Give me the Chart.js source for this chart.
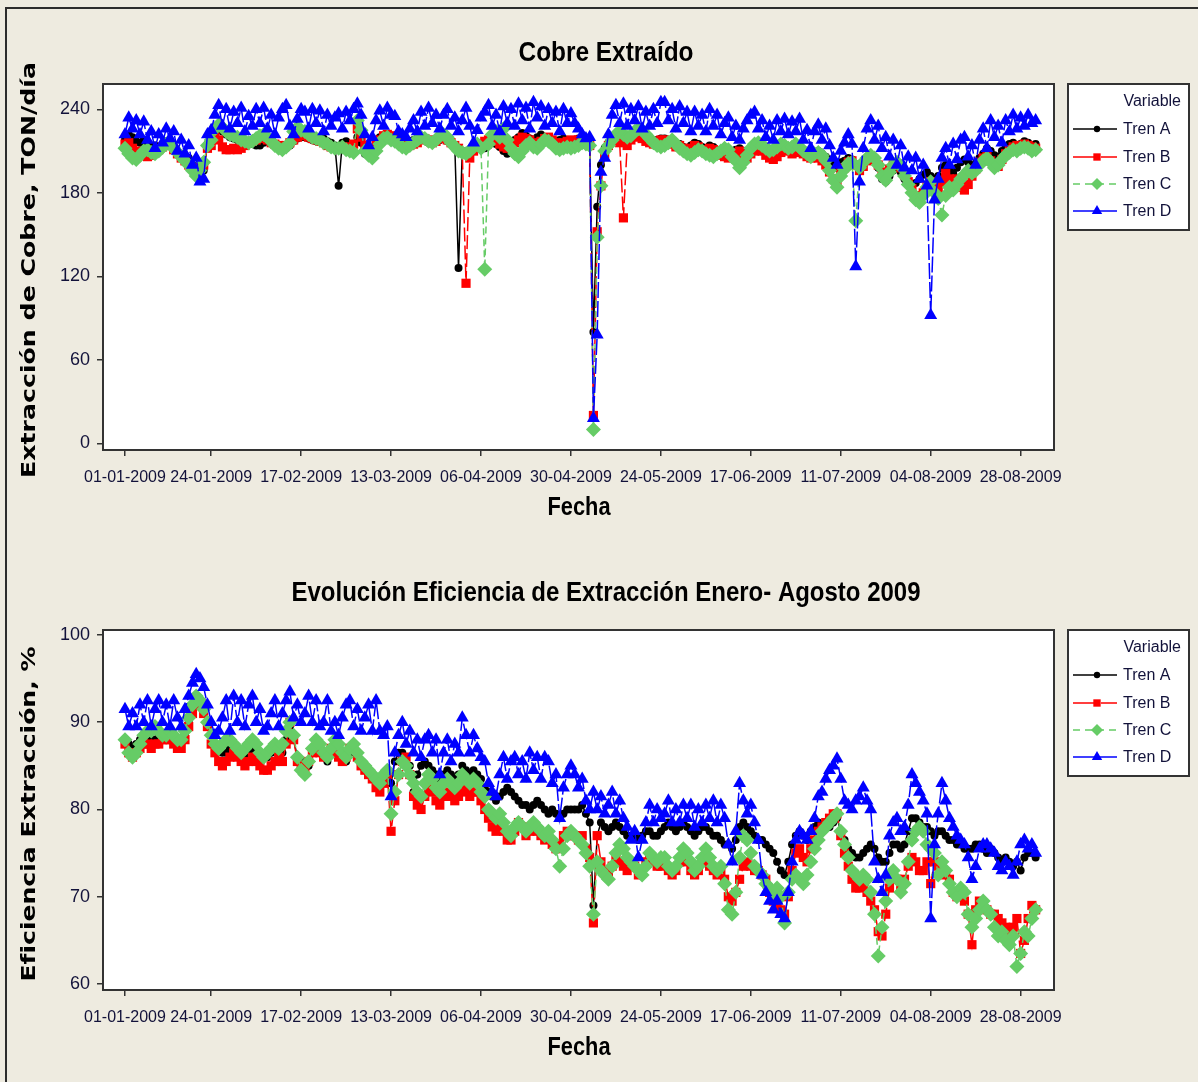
<!DOCTYPE html>
<html lang="es">
<head>
<meta charset="UTF-8">
<title>Cobre Extraído / Eficiencia de Extracción 2009</title>
<script src="https://cdn.jsdelivr.net/npm/chart.js"></script>
<style>
  body { margin: 0; background: #eeebe0; width: 1198px; height: 1082px; position: relative; overflow: hidden; }
  #frame { position: absolute; left: 5px; top: 7px; width: 1300px; height: 1200px; border-left: 2px solid #2c2c2c; border-top: 2px solid #2c2c2c; }
  canvas { position: absolute; left: 0; }
  #c1 { top: 0; }
  #c2 { top: 540px; }
</style>
</head>
<body>
<div id="frame"></div>
<canvas id="c1" width="1198" height="540"></canvas>
<canvas id="c2" width="1198" height="542"></canvas>
<script>
// un valor por día, 01-01-2009 (día 0) a 01-09-2009 (día 243)
const tickDays = [0, 23, 47, 71, 95, 119, 143, 167, 191, 215, 239];
const tickLabels = ['01-01-2009', '24-01-2009', '17-02-2009', '13-03-2009', '06-04-2009', '30-04-2009',
  '24-05-2009', '17-06-2009', '11-07-2009', '04-08-2009', '28-08-2009'];
const seriesNames = ['Tren A', 'Tren B', 'Tren C', 'Tren D'];

// Cobre extraído, TON/día
const cobreA = [
  218,222,220,217,216,218,215,214,214,213,215,217,218,214,210,208,207,205,200,197,194,196,215,
  217,222,226,224,222,220,219,218,219,217,216,215,214,214,216,218,217,215,213,212,212,214,217,219,220,
  220,219,218,217,218,219,217,216,214,185,216,217,215,214,220,216,208,209,212,218,220,221,219,220,
  219,218,216,215,217,218,219,220,218,216,216,217,218,219,217,216,214,126,210,208,211,213,214,212,
  212,214,216,215,213,210,208,212,218,220,223,221,219,218,220,222,220,218,216,217,218,219,217,216,
  218,219,217,216,214,80,170,200,212,216,220,222,221,220,218,219,221,222,220,218,217,216,218,219,
  219,218,216,214,215,213,212,214,216,215,213,212,214,213,211,209,208,207,209,211,212,210,208,210,
  212,214,213,211,209,210,212,214,213,211,212,214,213,211,209,207,209,210,208,206,204,200,198,202,
  203,205,204,200,198,200,203,205,203,198,190,188,192,196,198,195,190,186,184,187,190,193,195,192,
  190,192,198,200,196,194,198,202,204,202,199,201,205,208,212,210,207,206,210,213,215,216,214,215,217,216,214,215
];
const cobreB = [
  215,216,212,210,208,207,206,207,210,211,213,215,214,211,208,205,203,200,198,195,198,200,212,
  214,220,218,213,211,211,212,211,212,214,216,217,218,219,220,218,216,215,214,213,214,216,218,220,221,
  222,220,219,218,217,216,214,213,212,212,213,212,213,215,226,220,214,212,210,214,218,221,222,221,
  220,218,216,215,214,215,216,218,219,218,216,217,219,220,218,216,214,212,209,115,205,210,212,215,
  217,218,219,217,215,213,212,214,216,218,220,219,218,216,215,217,219,220,218,216,215,216,217,218,
  217,218,216,215,214,20,152,185,208,214,218,219,216,162,214,218,220,221,219,217,216,215,217,218,
  218,216,215,213,214,212,210,212,214,213,211,210,212,211,209,207,206,205,207,209,210,208,205,208,
  210,212,210,207,205,204,206,209,211,210,208,209,210,208,206,205,206,205,203,200,195,190,188,195,
  198,202,203,200,196,199,203,206,204,200,195,193,197,200,201,198,193,188,183,178,176,180,185,188,
  185,183,188,194,190,186,190,184,182,186,192,197,202,205,206,203,200,199,204,208,211,213,214,213,215,214,213,212
];
const cobreC = [
  212,208,205,204,207,210,211,209,208,210,213,215,216,212,209,206,203,200,196,192,196,202,214,
  218,226,229,227,224,222,221,220,218,217,216,217,219,221,222,220,217,214,212,211,213,216,224,227,225,
  224,222,220,219,218,216,215,213,212,212,213,211,210,209,232,225,210,207,205,210,215,219,220,218,
  217,215,213,212,214,216,218,220,219,217,216,218,221,222,220,216,213,210,209,208,210,213,215,212,
  125,215,222,224,220,226,218,212,208,206,210,214,216,213,212,215,218,217,215,212,211,212,213,212,
  213,214,216,215,214,10,148,185,210,214,218,222,224,222,220,221,224,226,225,222,219,216,214,213,
  214,216,218,215,212,210,208,207,209,211,210,208,207,206,208,210,212,211,206,203,198,202,207,212,
  215,216,214,212,210,211,213,215,214,212,213,215,213,210,208,206,208,209,207,203,196,189,184,192,
  197,201,202,160,198,202,205,207,205,200,192,189,195,200,202,199,192,186,180,175,173,178,184,188,
  180,176,164,178,184,182,186,190,193,196,194,196,200,203,205,202,198,200,204,207,209,211,210,212,213,212,210,211
];
const cobreD = [
  222,234,226,232,222,231,218,224,212,222,216,226,219,224,210,218,208,214,200,205,188,190,222,
  225,236,243,228,240,226,238,230,241,224,235,228,240,230,241,226,236,222,234,240,243,228,222,233,240,
  238,226,240,230,239,224,236,228,234,237,226,238,232,240,244,236,222,214,220,232,239,228,241,236,
  235,224,222,220,226,232,224,238,228,241,230,236,226,236,240,228,234,224,232,241,228,216,225,234,
  238,243,228,236,224,242,230,240,228,244,232,241,226,245,234,242,228,240,230,238,224,240,230,237,
  230,226,222,219,220,18,78,195,205,222,236,243,230,244,228,240,232,242,226,238,228,240,230,245,
  245,232,240,226,242,230,238,224,238,228,236,224,240,228,236,222,230,234,220,228,218,226,232,236,
  238,226,232,220,228,218,232,224,233,222,231,224,233,218,225,212,224,229,218,226,214,205,200,210,
  216,222,215,127,188,212,226,232,218,228,212,220,206,218,200,214,198,206,196,205,190,200,185,92,
  175,190,205,212,200,215,204,218,220,206,214,200,218,226,212,232,220,228,216,232,224,236,226,234,228,236,230,232
];

// Eficiencia de extracción, %
const eficA = [
  88,87.5,87,87.5,88,88.5,88.5,88,88,88.5,88,88,88.5,88,87.5,87.5,88.5,90,91.5,92.5,92,91.5,90,
  88.5,87.5,87,86.5,86.5,87,87.5,87,86.5,86,86.5,87,87,86.5,86,86,86.5,87,87,86.5,88,89.5,88,86,85.5,
  84,85,86.5,87.5,87,86,85.5,86.5,87.5,87,86,85.5,86.5,87,86,85,84.5,84.5,84,83.5,83,84,84.5,83,
  85.5,86.5,86.5,86,85,82,84,85,85.5,85,84.5,84,83.5,84,84.5,84,83.5,84,85,84.5,84,84.5,84,83.5,
  82.5,82,81.5,81,81.5,82,82.5,82,81.5,81,80.5,80.5,80,80.5,81,80.5,80,79.5,80,79.5,79,79.5,80,80,
  80,80,80.5,79.5,78.5,69,77,78.5,78,77.5,78,78.5,78,77.5,77,77,77,76.5,77,77.5,77.5,77,77,77.5,
  78,78.5,78,77.5,78,78.5,78,77.5,77,77.5,78,78,77.5,77,77,76.5,76,76,75.5,76.5,78,78.5,78,77.5,
  77,76.5,76.5,76,75.5,75,74,73,72.5,74,76,77,77.5,77,76.5,77.5,78,78.5,78,78.5,78,78.5,79,77.5,
  76.5,75.5,75,74.5,74.5,75,75.5,76,75.5,74.5,74,74,75,76,76,75.5,76,77.5,79,79,78.5,78,78,77.5,
  77,77.5,77.5,77,76.5,76.5,76,76,75.5,75.5,75.5,76,76,75.5,75,75.5,75,74.5,74,74.5,74,73.5,74,73,74.5,75,75,74.5
];
const eficB = [
  87.5,86.5,86,86.5,87,87.5,87.5,87,87.5,87.5,88,88,88,87.5,87,87,88,89.5,91,92,92,91,89.5,
  87.5,86.5,85.5,85,85.5,86,86.5,86,85.5,85,85.5,86,85.5,85,84.5,84.5,85,85.5,86,85.5,87.5,90,88,85.5,85,
  84.5,85.5,86.5,87,86.5,86,86.5,87,86.5,86,85.5,86,87,87,86,85,84.5,84,83.5,82.5,82,83,84,77.5,
  81,84,85.5,86,84,81.5,80.5,80,81.5,82.5,82,81,80.5,81.5,82,81.5,81,81.5,82.5,82,81.5,82,82,81,
  80,79,78,77.5,78,77.5,76.5,76.5,77.5,78.5,78,77,77.5,78,77.5,77,76.5,77,76,75.5,76,77,77.5,77,
  77,76.5,77,75.5,74.5,67,77,74,73,72.5,73.5,74.5,74,73.5,73,74,73.5,72.5,73,74,74.5,74,73.5,73.5,
  74,73,72.5,73,74,74.5,74,73,72.5,73,74,74.5,73.5,73,72.5,73,72,70,69.5,70.5,72,73.5,74,73.5,
  73,73,72.5,72,70.5,69.5,69,68.5,68,70,73,75,75.5,74.5,74,75.5,76.5,77.5,78,78.5,79,79.5,79.5,77,
  75,73.5,72,71,71,71.5,70.5,69.5,68.5,66,65.5,68,71,72.5,72,71,72,73.5,74.5,74,73,73,74,71.5,
  74,73.5,73,72.5,72,70.5,70,70.5,69.5,68,64.5,68.5,69.5,69,68.5,68,68,67.5,67,66.5,66,66.5,67.5,63.5,65,67.5,69,68.5
];
const eficC = [
  88,86.5,86,86.5,87.5,88.5,89,89,89.5,89,88.5,88.5,89,88.5,88,88,89,90.5,92,93,92.5,91.5,90,
  88.5,87.5,87,87.5,88,88,87.5,87,86.5,87,87.5,88,87.5,86.5,86,86.5,87,87.5,87,87.5,89,90,88.5,86,84.5,
  84,85.5,87,88,87.5,86.5,86,87,88,87.5,86.5,86,87,87.5,86.5,85.5,85,84.5,84,83.5,83,84,84.5,79.5,
  82,84,85.5,85,84,83,82,81.5,83,84,83.5,82.5,82,83,83.5,83,82.5,83,84,83.5,83,83.5,83,82,
  81.5,80,79.5,79,79.5,78.5,77.5,77,78,78.5,78,77.5,78,78.5,78,77.5,77,77.5,76.5,75.5,73.5,75.5,77,77.5,
  77,76.5,76,75,73.5,68,74,73,72.5,72,73.5,75,76,75.5,74.5,74,73.5,73,72.5,73.5,75,74.5,74,74.5,
  74.5,73.5,73,73.5,74.5,75.5,75,74,73,73.5,74.5,75.5,74.5,73.5,73,73.5,71.5,68.5,68,70.5,74.5,77,76.5,75,
  73.5,73,72.5,71.5,71,70.5,71,70,67,70.5,72,72.5,72,71.5,72.5,74,75.5,76.5,77.5,78,78.5,79,79.5,77.5,
  76,74.5,73,72.5,72,72.5,72,70.5,68,63.2,66.5,69.5,72,73,72,70.5,71.5,74,76.5,77.5,78,77.5,76,75.5,
  75,72.5,74,73,71.5,70.5,70,71,70.5,68,66.5,67.5,68.5,69.5,68.5,68,66.5,65.5,66,65,64.5,65.5,62,63.5,66,65.5,67.5,68.5
];
const eficD = [
  91.5,89.5,91,89.5,92,90,92.5,89.5,91.5,92.5,90,92,89.5,92.5,90.5,89.5,91.5,93,94.5,95.5,95,94,92,
  90,88.5,89,90.5,92.5,89,93,90,92.5,89.5,92,93,90,91.5,89,89.5,91,92.5,89.5,91,92.5,93.5,90.5,92,90,
  91,93,90,92.5,89.5,90,92.5,89,90,88.5,90.5,92,92.5,89.5,91.5,89,90.5,92,89,92.5,89,88.5,89.5,81.5,
  86.5,88.5,90,87.5,89,86.5,88,86,88,88.5,86.5,88,84,86.5,88,85.5,87.5,86.5,90.5,88.5,86.5,88.5,87,86,
  85.5,83,82,81.5,84,86,83.5,85.5,86,84,85.5,83.5,86.5,84.5,86,83.5,86,85.5,83,84,79,82.5,84,85,
  84,82.5,83.5,81,80,82,80,81.5,79.5,80.5,82,79.5,81,79,78,76.5,77.5,74.5,76.5,78.5,80.5,78.5,80,79,
  79.5,81,78.5,80,78.5,80.5,79,80.5,78,80,78.5,80.5,79,81,78.5,80.5,79,76,74,77.5,83,81,79.5,80.5,
  78.5,76.5,72.5,70.5,69.5,68.5,69.5,68,67.5,70.5,74,76.5,77.5,77,76.5,77.5,79,81.5,82,83.5,84.5,85,85.8,83.5,
  81,80.5,80,81,81.5,82.5,81,80,74,72,70.5,72.5,77,78.5,79,77.5,78,80.5,84,83,82,81,79.5,67.5,
  76,79.5,83,81,79,78,77,76.5,76,74.5,72,73.5,75.5,76,76,75.5,75,73.5,73,74,73.5,72.5,74,76,76.5,75.5,76,75
];

const SANS = '"Liberation Sans", Arial, sans-serif';
const TEXT = '#12123a';

// texto comprimido/estirado a un ancho dado (imita la fuente de Minitab)
function drawFitted(ctx, text, x, y, width, font, rotate) {
  ctx.save();
  ctx.font = font;
  ctx.fillStyle = '#000';
  ctx.textAlign = 'center';
  ctx.textBaseline = 'alphabetic';
  ctx.translate(x, y);
  if (rotate) ctx.rotate(-Math.PI / 2);
  const w = ctx.measureText(text).width;
  ctx.scale(width / w, 1);
  ctx.fillText(text, 0, 0);
  ctx.restore();
}

function marker(ctx, style, r, x, y) {
  if (Chart.helpers && Chart.helpers.drawPoint) {
    Chart.helpers.drawPoint(ctx, { pointStyle: style, radius: r, rotation: 0, borderWidth: 0 }, x, y);
  } else {
    ctx.beginPath(); ctx.arc(x, y, r, 0, Math.PI * 2); ctx.fill();
  }
}

const decor = {
  id: 'decor',
  beforeDraw(chart) {
    const { ctx, chartArea: a } = chart;
    ctx.save();
    ctx.fillStyle = '#fff';
    ctx.fillRect(a.left, a.top, a.right - a.left, a.bottom - a.top);
    ctx.restore();
  },
  afterDraw(chart, args, o) {
    const { ctx, chartArea: a } = chart;
    ctx.save();
    ctx.strokeStyle = '#333';
    ctx.lineWidth = 2;
    ctx.strokeRect(a.left, a.top, a.right - a.left, a.bottom - a.top);
    ctx.restore();

    drawFitted(ctx, o.title, 606, 61, o.titleWidth, 'bold 28px ' + SANS);
    drawFitted(ctx, 'Fecha', 579, 515, 63, 'bold 25px ' + SANS);
    drawFitted(ctx, o.yTitle, 35, o.yTitleCenter, o.yTitleLen, 'bold 19px "DejaVu Sans", Verdana, sans-serif', true);

    // leyenda
    const lx = 1068, ly = o.legendTop, lw = 121, lh = 146;
    ctx.save();
    ctx.fillStyle = '#fff';
    ctx.fillRect(lx, ly, lw, lh);
    ctx.strokeStyle = '#333';
    ctx.lineWidth = 2;
    ctx.strokeRect(lx, ly, lw, lh);
    ctx.font = '16px ' + SANS;
    ctx.fillStyle = TEXT;
    ctx.textBaseline = 'middle';
    ctx.textAlign = 'right';
    ctx.fillText('Variable', lx + 113, ly + 18);
    const rows = [45, 73, 100, 127];
    chart.data.datasets.forEach((ds, i) => {
      const y = ly + rows[i];
      ctx.strokeStyle = ds.borderColor;
      ctx.fillStyle = ds.borderColor;
      ctx.lineWidth = 1.5;
      ctx.setLineDash(ds.legendDash);
      ctx.beginPath();
      ctx.moveTo(lx + 5, y);
      ctx.lineTo(lx + 49, y);
      ctx.stroke();
      ctx.setLineDash([]);
      marker(ctx, ds.pointStyle, ds.pointRadius * 0.8, lx + 29, y);
      ctx.fillStyle = TEXT;
      ctx.textAlign = 'left';
      ctx.fillText(ds.label, lx + 55, y + 1);
    });
    ctx.restore();
  }
};

function mkSet(i, values) {
  const colors = ['#000000', '#ff0000', '#66cc66', '#0000ff'];
  const styles = ['circle', 'rect', 'rectRot', 'triangle'];
  const radii = [4, 6.5, 7.5, 7.5];
  const dashes = [[], [14, 4], [7, 4], [16, 3]];
  const legendDashes = [[], [22, 6], [7, 5], []];
  return {
    label: seriesNames[i],
    data: values.map((v, d) => ({ x: d, y: v })),
    borderColor: colors[i],
    backgroundColor: colors[i],
    pointBackgroundColor: colors[i],
    borderWidth: 1.5,
    borderDash: dashes[i],
    legendDash: legendDashes[i],
    pointStyle: styles[i],
    pointRadius: radii[i],
    pointHoverRadius: radii[i],
    pointBorderWidth: 0,
    tension: 0,
    fill: false,
    order: 4 - i
  };
}

function makeChart(id, series, cfg) {
  const canvas = document.getElementById(id);
  return new Chart(canvas.getContext('2d'), {
    type: 'line',
    data: { datasets: series.map((s, i) => mkSet(i, s)) },
    plugins: [decor],
    options: {
      responsive: false,
      animation: false,
      devicePixelRatio: 1,
      events: [],
      layout: { padding: { top: cfg.plotTop, right: 144, bottom: canvas.height - 450 - 70, left: 0 } },
      plugins: {
        legend: { display: false },
        tooltip: { enabled: false },
        decor: cfg.decor
      },
      scales: {
        x: {
          type: 'linear',
          min: -5.87,
          max: 247.9,
          afterBuildTicks: s => { s.ticks = tickDays.map(v => ({ value: v })); },
          afterFit: s => { s.height = 70; },
          ticks: {
            callback: (v, i) => tickLabels[i],
            autoSkip: false, maxRotation: 0, minRotation: 0,
            padding: 12, color: TEXT,
            font: { family: SANS, size: 16 }
          },
          grid: { drawOnChartArea: false, drawTicks: true, tickLength: 6, color: '#333', lineWidth: 1.5 },
          border: { display: false }
        },
        y: {
          min: cfg.yMin,
          max: cfg.yMax,
          afterBuildTicks: s => { s.ticks = cfg.yTicks.map(v => ({ value: v })); },
          afterFit: s => { s.width = 103; },
          ticks: { padding: 7, color: TEXT, font: { family: SANS, size: 18 } },
          grid: { drawOnChartArea: false, drawTicks: true, tickLength: 6, color: '#333', lineWidth: 1.5 },
          border: { display: false }
        }
      }
    }
  });
}

makeChart('c1', [cobreA, cobreB, cobreC, cobreD], {
  plotTop: 84, yMin: -4.81, yMax: 258.2, yTicks: [0, 60, 120, 180, 240],
  decor: { title: 'Cobre Extraído', titleWidth: 175, yTitle: 'Extracción de Cobre, TON/día',
           yTitleLen: 416, yTitleCenter: 270, legendTop: 84 }
});
makeChart('c2', [eficA, eficB, eficC, eficD], {
  plotTop: 90, yMin: 59.31, yMax: 100.57, yTicks: [60, 70, 80, 90, 100],
  decor: { title: 'Evolución Eficiencia de Extracción Enero- Agosto 2009', titleWidth: 629,
           yTitle: 'Eficiencia Extracción, %', yTitleLen: 335, yTitleCenter: 274, legendTop: 90 }
});
</script>
</body>
</html>
